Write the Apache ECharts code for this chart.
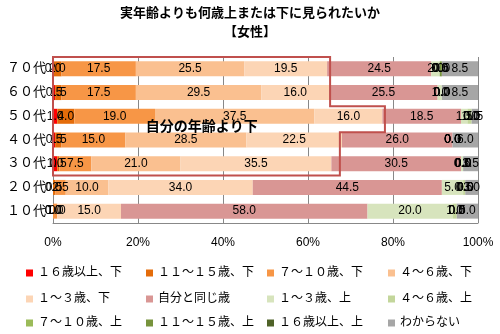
<!DOCTYPE html>
<html><head><meta charset="utf-8">
<script src="https://cdn.jsdelivr.net/npm/echarts@6/dist/echarts.min.js"></script>
<style>html,body{margin:0;padding:0;background:#fff}#c{width:500px;height:334px}</style>
</head><body><div id="c"></div>
<script>
const titleText = '実年齢よりも何歳上または下に見られたいか';
const subTitleText = '【女性】';
const annotationText = '自分の年齢より下';
const categories = ['７０代','６０代','５０代','４０代','３０代','２０代','１０代'];
const seriesNames = ['１６歳以上、下','１１～１５歳、下','７～１０歳、下','４～６歳、下','１～３歳、下','自分と同じ歳','１～３歳、上','４～６歳、上','７～１０歳、上','１１～１５歳、上','１６歳以上、上','わからない'];
const below16    = [0.0, 0.5, 1.0, 0.5, 1.0, 0.0, 0.0];
const below11_15 = [2.0, 1.5, 4.0, 1.5, 0.5, 0.5, 0.0];
const below7_10  = [17.5, 17.5, 19.0, 15.0, 7.5, 2.5, 1.0];
const below4_6   = [25.5, 29.5, 37.5, 28.5, 21.0, 10.0, 0.0];
const below1_3   = [19.5, 16.0, 16.0, 22.5, 35.5, 34.0, 15.0];
const sameAge    = [24.5, 25.5, 18.5, 26.0, 30.5, 44.5, 58.0];
const above1_3   = [2.0, 1.0, 1.5, 0.0, 0.5, 5.0, 20.0];
const above4_6   = [0.0, 0.0, 1.0, 0.0, 0.0, 0.5, 1.0];
const above7_10  = [0.0, 0.0, 0.0, 0.0, 0.0, 0.0, 0.0];
const above11_15 = [0.5, 0.0, 0.0, 0.0, 0.0, 0.0, 0.0];
const above16    = [0.0, 0.0, 0.0, 0.0, 0.0, 0.0, 0.0];
const unknown    = [8.5, 8.5, 1.5, 6.0, 3.5, 3.0, 5.0];
const xTicks = [0, 20, 40, 60, 80, 100];

const seriesData = [below16, below11_15, below7_10, below4_6, below1_3, sameAge, above1_3, above4_6, above7_10, above11_15, above16, unknown];
const colors = ['#FF0000','#E46C0A','#F79646','#FAC090','#FCD5B5','#D99694','#D7E4BD','#C3D69B','#9BBB59','#77933C','#4F6228','#A6A6A6'];
const FONT = '"Liberation Sans", "Noto Sans CJK JP", sans-serif';

const chart = echarts.init(document.getElementById('c'), null, {renderer: 'canvas'});
const series = seriesData.map((d, i) => ({
  name: seriesNames[i], type: 'bar', stack: 'all', data: d, barWidth: 15,
  itemStyle: {color: colors[i]},
  label: {show: true, position: 'inside', color: '#000', fontSize: 12, fontFamily: FONT,
    formatter: p => p.value.toFixed(1)},
  emphasis: {disabled: true}
}));
const legendCols = [26, 146, 267, 388];
const legendRows = [267, 293, 317];
const legends = seriesNames.map((n, i) => ({
  data: [n], left: legendCols[i % 4], top: legendRows[Math.floor(i / 4)],
  itemWidth: 7, itemHeight: 7, itemGap: 0, icon: 'rect', selectedMode: false, padding: 0,
  textStyle: {fontSize: 12, color: '#000', fontFamily: FONT}
}));
chart.setOption({
  animation: false,
  color: colors,
  title: {text: titleText + '\n' + subTitleText, left: 'center', top: -1,
    textStyle: {fontSize: 13, fontWeight: 'bold', color: '#000', fontFamily: FONT, lineHeight: 19}},
  grid: {left: 53, right: 22, top: 57, bottom: 111},
  xAxis: {type: 'value', min: 0, max: 100, interval: 20,
    axisLabel: {formatter: '{value}%', color: '#000', fontSize: 12, fontFamily: FONT, margin: 14},
    axisLine: {show: true, lineStyle: {color: '#888'}},
    axisTick: {show: false},
    splitLine: {show: true, lineStyle: {color: '#888', width: 1}}},
  yAxis: {type: 'category', data: categories, inverse: true,
    axisLabel: {color: '#000', fontSize: 13, fontFamily: FONT, margin: 7},
    axisLine: {show: true, lineStyle: {color: '#888'}},
    axisTick: {show: false}},
  legend: legends,
  series: series
});

function px(x, yIdx, yOff) {
  const p = chart.convertToPixel({gridIndex: 0}, [x, yIdx]);
  const p0 = chart.convertToPixel({gridIndex: 0}, [0, 0]);
  const p1 = chart.convertToPixel({gridIndex: 0}, [0, 1]);
  const band = p1[1] - p0[1];
  return [p[0], p[1] + yOff * band];
}
const pts = [
  px(0, 0, -0.5), px(65.2, 0, -0.5), px(65.2, 1, 0.58), px(78.1, 1, 0.58),
  px(78.1, 3, -0.33), px(67.5, 3, -0.33), px(67.5, 4, 0.5), px(0, 4, 0.5)
];
const tp = px(35, 2, 0.47);
chart.setOption({
  graphic: [
    {type: 'polygon', shape: {points: pts}, style: {fill: 'none', stroke: '#C0504D', lineWidth: 2}, z: 100},
    {type: 'text', x: tp[0], y: tp[1], z: 101,
      style: {text: annotationText, fontSize: 14, fontWeight: 'bold', fill: '#000', fontFamily: FONT,
        align: 'center', verticalAlign: 'middle'}}
  ]
});
</script></body></html>
